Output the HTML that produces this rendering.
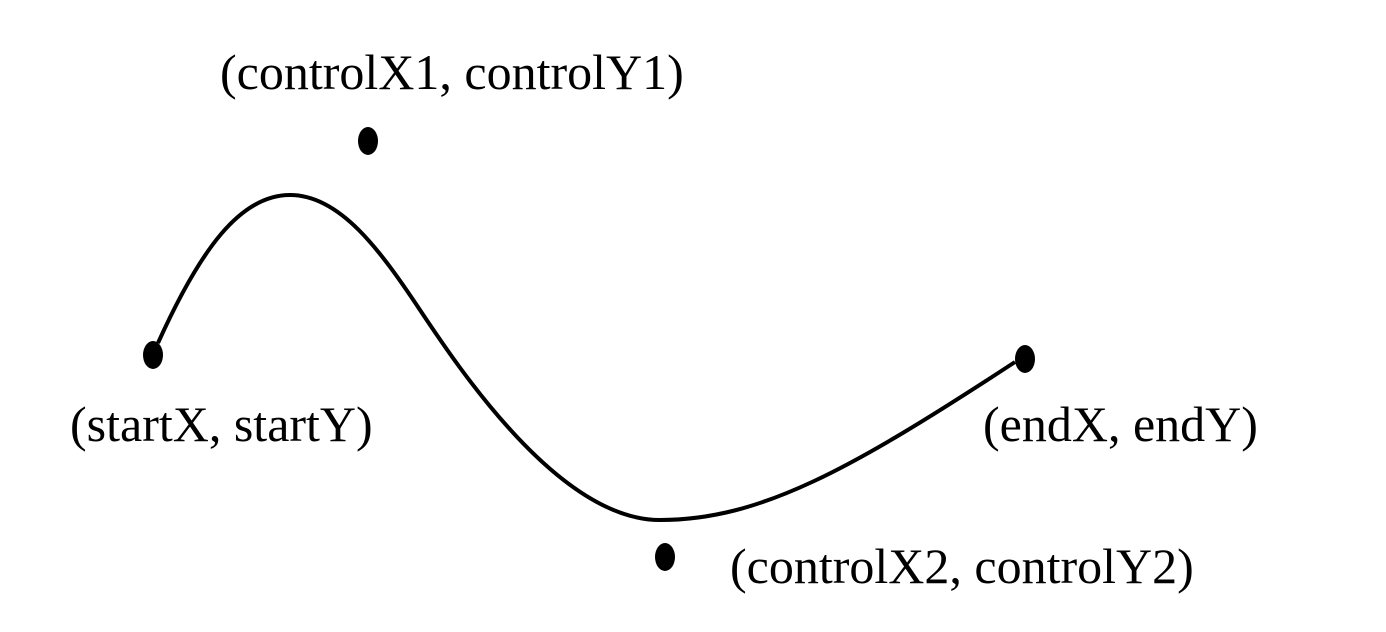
<!DOCTYPE html>
<html><head><meta charset="utf-8"><style>
html,body{margin:0;padding:0;background:#fff;width:1386px;height:632px;overflow:hidden}
text{font-family:"Liberation Serif",serif;font-size:50px;fill:#000}
</style></head><body>
<svg id="chart" width="1386" height="632" viewBox="0 0 1386 632" xmlns="http://www.w3.org/2000/svg">
<path d="M158,343 C200,250 240,195 290,195 C340,195 380,250 420,310 S560,520 660,520 C760,520 850,470 1015,362" fill="none" stroke="#000" stroke-width="4"/>
<g id="pts"></g>
</svg>
<script>
const pointNames=["start","control-1","control-2","end"];
const pointX=[153,368,665,1025];
const pointY=[355,141,557,359];
const labels=["(startX, startY)","(controlX1, controlY1)","(controlX2, controlY2)","(endX, endY)"];
const labelX=[70,220,730,983];
const labelY=[441,89,583,441];
const g=document.getElementById('pts');
const ns="http://www.w3.org/2000/svg";
for(let i=0;i<pointX.length;i++){
  const e=document.createElementNS(ns,'ellipse');
  e.setAttribute('cx',pointX[i]);e.setAttribute('cy',pointY[i]);
  e.setAttribute('rx',10);e.setAttribute('ry',14);e.setAttribute('fill','#000');
  
  
  g.appendChild(e);
  const t=document.createElementNS(ns,'text');
  t.setAttribute('x',labelX[i]);t.setAttribute('y',labelY[i]);
  t.textContent=labels[i];
  
  
  g.appendChild(t);
}
</script>
</body></html>
